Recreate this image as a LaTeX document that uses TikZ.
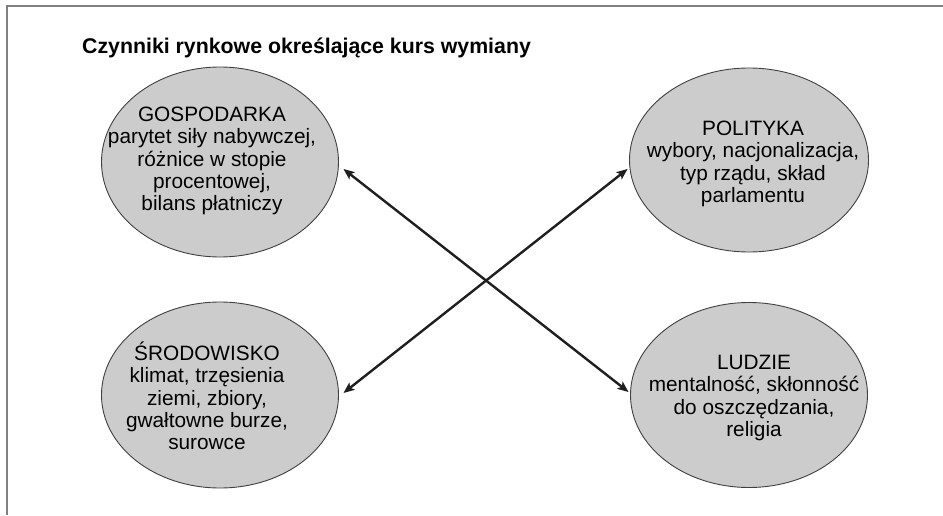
\documentclass[tikz,border=0pt]{standalone}
\usepackage{fontspec}
\setmainfont{Liberation Sans}
\usetikzlibrary{shapes.geometric,arrows.meta,calc}
\begin{document}
\begin{tikzpicture}[x=1pt,y=1pt,
  factor/.style={ellipse, draw=black!75, line width=0.9pt, fill=black!20,
    inner sep=0pt, minimum width=237pt, minimum height=188pt},
  factortext/.style={align=center, inner sep=0pt,
    font=\fontsize{20.8}{22.3}\selectfont},
  tip/.tip={Stealth[length=11pt,width=9pt,inset=2.5pt]},
  link/.style={line width=2.4pt, draw=black!88, tip-tip}]
\useasboundingbox (0,0) rectangle (943,515);
% frame: left and top edges
\draw[line width=2pt, black!50] (6.5,0) -- (6.5,508.5) -- (943,508.5);

% heading
\node[anchor=base west, inner sep=0pt, font=\bfseries\fontsize{21.3}{25}\selectfont]
  (title) at (82,461) {Czynniki rynkowe określające kurs wymiany};

% the four factor groups
\node[factor, minimum height=190pt] (gosp) at (220,353) {};
\node[factor, minimum width=239pt, minimum height=184pt] (pol) at (749,355) {};
\node[factor, minimum height=186pt] (srod) at (220,120) {};
\node[factor, minimum height=185pt] (ludz) at (749,120) {};

\node[factortext] (gospt) at (212,354)
  {GOSPODARKA\\parytet siły nabywczej,\\różnice w stopie\\procentowej,\\bilans płatniczy};
\node[factortext] (polt) at (753,351)
  {POLITYKA\\wybory, nacjonalizacja,\\typ rządu, skład\\parlamentu};
\node[factortext] (srodt) at (207,119)
  {ŚRODOWISKO\\klimat, trzęsienia\\ziemi, zbiory,\\gwałtowne burze,\\surowce};
\node[factortext] (ludzt) at (754,117)
  {LUDZIE\\mentalność, skłonność\\do oszczędzania,\\religia};

% crossing two-way links
\draw[link] ($(gosp.east)+(4.5,-7)$) -- ($(ludz.west)+(-1.5,3)$);
\draw[link] ($(srod.east)+(4.5,2)$) -- ($(pol.west)+(-1.5,-9)$);
\end{tikzpicture}
\end{document}
